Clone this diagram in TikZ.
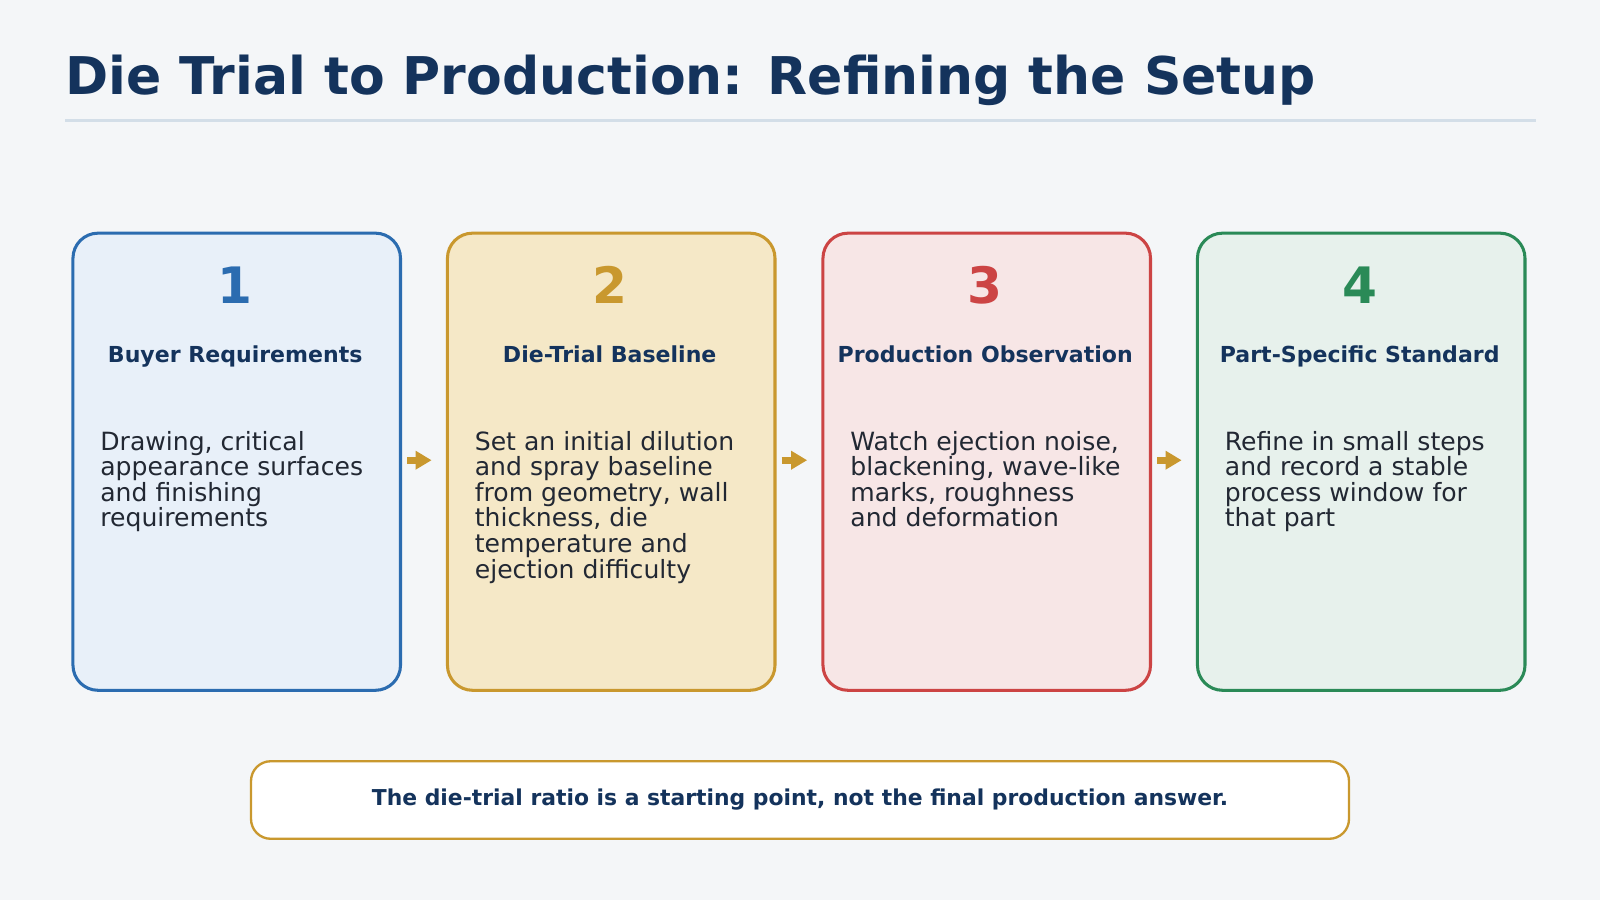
\documentclass[tikz,border=0pt]{standalone}
\usepackage{fontspec}
\setmainfont{DejaVu Sans}
\usetikzlibrary{arrows.meta}
\definecolor{bg}{HTML}{F4F6F8}
\definecolor{navy}{HTML}{14335C}
\definecolor{txt}{HTML}{222833}
\definecolor{rule}{HTML}{D3DEE8}
\definecolor{cA}{HTML}{2B6CB0}\definecolor{fA}{HTML}{E8F0F9}
\definecolor{cB}{HTML}{C9982E}\definecolor{fB}{HTML}{F5E8C7}
\definecolor{cC}{HTML}{CC4444}\definecolor{fC}{HTML}{F7E6E6}
\definecolor{cD}{HTML}{2A8A57}\definecolor{fD}{HTML}{E7F1EC}
\newlength{\pxu}\setlength{\pxu}{0.02cm}
\tikzset{
 card/.style={draw=#1, line width=1.7pt, rounded corners=14pt, minimum width=321\pxu, minimum height=448\pxu, anchor=north west},
 num/.style={text=#1, font=\bfseries\fontsize{28}{30}\selectfont, anchor=base},
 sub/.style={text=navy, font=\bfseries\fontsize{12.3}{13}\selectfont, anchor=base},
 body/.style={text=txt, font=\fontsize{14}{14.3}\selectfont, align=left, anchor=north west, inner sep=0pt},
 conn/.style={-{Triangle[length=9pt,width=10pt]}, draw=cB, line width=4pt},
}
\begin{document}
\begin{tikzpicture}[x=0.02cm,y=-0.02cm]
\fill[bg] (0,0) rectangle (1568,882);
\useasboundingbox (0,0) rectangle (1568,882);
\node[anchor=base west, inner sep=0pt, text=navy, font=\bfseries\fontsize{29}{30}\selectfont] (title) at (64,93) {Die Trial to Production: Refining the Setup};
\draw[rule, line width=1.7pt] (64,118) -- (1505,118);
\foreach \i/\x/\c/\n/\s/\b in {
 1/70/A/1/Buyer Requirements/{Drawing, critical\\appearance surfaces\\and finishing\\requirements},
 2/437/B/2/Die-Trial Baseline/{Set an initial dilution\\and spray baseline\\from geometry, wall\\thickness, die\\temperature and\\ejection difficulty},
 3/805/C/3/Production Observation/{Watch ejection noise,\\blackening, wave-like\\marks, roughness\\and deformation},
 4/1172/D/4/Part-Specific Standard/{Refine in small steps\\and record a stable\\process window for\\that part}}{
 \node[card=c\c, fill=f\c] (card\i) at (\x,227) {};
 \node[num=c\c] (num\i) at (\x+160.5,297) {\n};
 \node[sub] (sub\i) at (\x+160.5,355) {\s};
 \node[body] (body\i) at (\x+28,422) {\b};
}
\foreach \a/\b in {1/2,2/3,3/4}{
 \draw[conn] ([xshift=5\pxu,yshift=-224\pxu]card\a.north east) -- ([xshift=-14\pxu,yshift=-224\pxu]card\b.north west);
}
\node[draw=cB, fill=white, line width=1.3pt, rounded corners=11pt, minimum width=1076\pxu, minimum height=76\pxu, text=navy, font=\bfseries\fontsize{12.2}{13}\selectfont] (note) at (784,784) {The die-trial ratio is a starting point, not the final production answer.};
\end{tikzpicture}
\end{document}
